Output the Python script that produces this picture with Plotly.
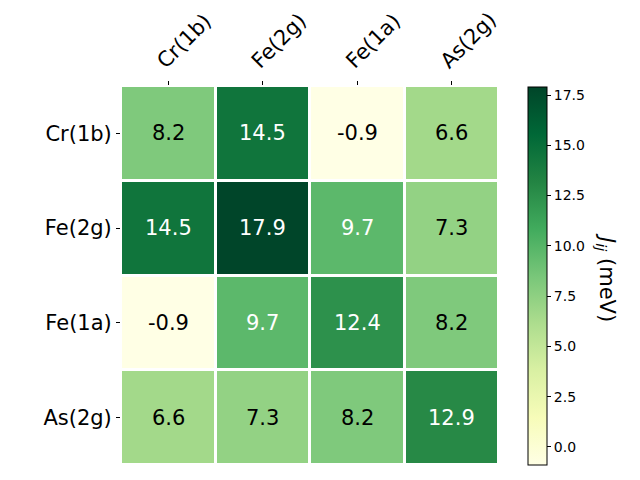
import plotly.graph_objects as go

labels = ["Cr(1b)", "Fe(2g)", "Fe(1a)", "As(2g)"]
values = [
    [8.2, 14.5, -0.9, 6.6],
    [14.5, 17.9, 9.7, 7.3],
    [-0.9, 9.7, 12.4, 8.2],
    [6.6, 7.3, 8.2, 12.9],
]
cbar_ticks = [0, 2.5, 5, 7.5, 10, 12.5, 15, 17.5]

ylgn = ["#ffffe5", "#f7fcb9", "#d9f0a3", "#addd8e", "#78c679",
        "#41ab5d", "#238443", "#006837", "#004529"]
cs = [[i / (len(ylgn) - 1), c] for i, c in enumerate(ylgn)]

zmin, zmax = -0.9, 17.9
font = "DejaVu Sans"

# page has an 8px body margin; figure is 632x472 placed at (8, 8)
OFF = 8
W, H = 640 - OFF, 480 - OFF


def fx(px):
    return (px - OFF) / W


def fy(py):
    return 1 - (py - OFF) / H


fig = go.Figure(go.Heatmap(
    z=values, x=labels, y=labels,
    colorscale=cs, zmin=zmin, zmax=zmax,
    xgap=3, ygap=3,
    colorbar=dict(
        x=fx(528), xanchor="left", xpad=0, ypad=0,
        y=fy(276), yanchor="middle",
        len=378 / H, lenmode="fraction",
        thickness=19, thicknessmode="pixels",
        outlinewidth=1, outlinecolor="black",
        tickvals=cbar_ticks, ticktext=[f"{t:.1f}" for t in cbar_ticks],
        ticks="outside", ticklen=4, tickcolor="black",
        tickfont=dict(family=font, size=14, color="black"),
    ),
    hoverinfo="skip",
))

thr = (zmin + zmax) / 2
for i, row in enumerate(values):
    for j, v in enumerate(row):
        fig.add_annotation(
            x=labels[j], y=labels[i], text=f"{v:.1f}", showarrow=False,
            font=dict(family=font, size=21, color="white" if v > thr else "black"),
        )

fig.add_annotation(
    xref="paper", yref="paper", x=fx(606), y=fy(277),
    xanchor="center", yanchor="middle",
    text="<i>J</i><sub><i>ij</i></sub> (meV)", textangle=90, showarrow=False,
    font=dict(family=font, size=21, color="black"),
)

fig.update_layout(
    width=W, height=H,
    margin=dict(l=0, r=0, t=0, b=0, autoexpand=False),
    paper_bgcolor="white", plot_bgcolor="white",
    xaxis=dict(
        domain=[fx(121), fx(499)], side="top", tickangle=-45,
        ticks="outside", ticklen=4, tickcolor="black", automargin=False,
        ticklabelshift=-10,
        tickfont=dict(family=font, size=21, color="black"),
        showgrid=False, zeroline=False,
    ),
    yaxis=dict(
        domain=[fy(465), fy(86)], autorange="reversed",
        ticks="outside", ticklen=4, tickcolor="black", automargin=False,
        tickfont=dict(family=font, size=21, color="black"),
        showgrid=False, zeroline=False,
    ),
)

fig.write_html("out.html")
